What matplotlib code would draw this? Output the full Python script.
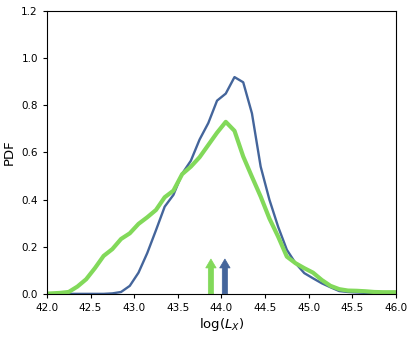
import matplotlib
matplotlib.use("Agg")
import matplotlib.pyplot as plt
import numpy as np

# bin centres of the luminosity histograms
log_lx = np.round(np.arange(41.95, 46.06, 0.1), 2)

# blue: narrow distribution
pdf_blue = [0.0, 0.0, 0.0, 0.0, 0.0, 0.0, 0.0, 0.0, 0.002, 0.008,
            0.034, 0.09, 0.173, 0.27, 0.37, 0.42, 0.51, 0.565, 0.655, 0.725,
            0.82, 0.85, 0.92, 0.898, 0.766, 0.54, 0.40, 0.285, 0.187, 0.13,
            0.088, 0.066, 0.045, 0.028, 0.012, 0.008, 0.006, 0.004, 0.003, 0.002,
            0.002, 0.002]

# green: broad distribution
pdf_green = [0.0, 0.002, 0.004, 0.008, 0.031, 0.062, 0.109, 0.161, 0.19, 0.233,
             0.257, 0.297, 0.325, 0.356, 0.41, 0.438, 0.508, 0.54, 0.58, 0.632,
             0.684, 0.73, 0.692, 0.583, 0.497, 0.413, 0.32, 0.243, 0.158, 0.13,
             0.109, 0.09, 0.059, 0.034, 0.02, 0.014, 0.013, 0.011, 0.008, 0.007,
             0.007, 0.007]

# medians marked with arrows
median_green = 43.88
median_blue = 44.04
arrow_len = 0.148

c_blue = '#44659b'
c_green = '#82d95a'

fig, ax = plt.subplots(figsize=(4.15, 3.37), dpi=100)
fig.subplots_adjust(left=0.113, right=0.954, bottom=0.128, top=0.967)

ax.plot(log_lx, pdf_blue, color=c_blue, lw=1.7)
ax.plot(log_lx, pdf_green, color=c_green, lw=3.0)

for xm, c in [(median_green, c_green), (median_blue, c_blue)]:
    ax.arrow(xm, 0, 0, arrow_len, width=0.06, head_width=0.12,
             head_length=0.038, length_includes_head=True, color=c, lw=0.5)

ax.set_xlim(42, 46)
ax.set_ylim(0, 1.2)
ax.set_xticks(np.arange(42, 46.01, 0.5))
ax.set_yticks(np.arange(0, 1.21, 0.2))
ax.tick_params(labelsize=7.5, length=3)
ax.set_xlabel(r'log($L_X$)', fontsize=9.5, labelpad=2)
ax.set_ylabel('PDF', fontsize=9.5)

plt.savefig('out.png', dpi=100)
